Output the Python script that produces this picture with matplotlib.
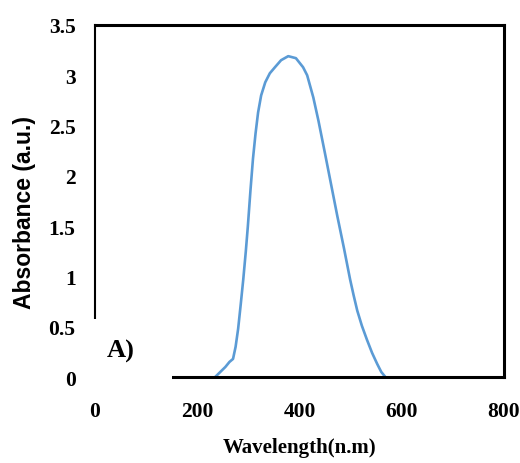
import matplotlib
matplotlib.use("Agg")
import matplotlib.pyplot as plt
from matplotlib.patches import Rectangle

wavelength = [235, 245, 255, 263, 270, 275, 280, 285, 290, 295, 299, 304, 309, 314,
              319, 325, 333, 342, 352, 364, 378, 393, 407, 415, 427, 437, 450, 462,
              474, 487, 499, 506, 513, 522, 532, 542, 552, 560, 568]
absorbance = [0.0, 0.05, 0.10, 0.15, 0.18, 0.30, 0.48, 0.72, 0.97, 1.25, 1.50, 1.85, 2.17, 2.42,
              2.63, 2.80, 2.93, 3.02, 3.08, 3.15, 3.19, 3.17, 3.08, 3.00, 2.78, 2.55, 2.22, 1.91,
              1.60, 1.28, 0.97, 0.81, 0.66, 0.51, 0.37, 0.24, 0.13, 0.05, 0.0]

x_ticks = [0, 200, 400, 600, 800]
y_ticks = [0, 0.5, 1, 1.5, 2, 2.5, 3, 3.5]
y_tick_labels = ["0", "0.5", "1", "1.5", "2", "2.5", "3", "3.5"]

serif = "Liberation Serif"
sans = "Liberation Sans"

fig = plt.figure(figsize=(5.2, 4.64), dpi=100)
ax = fig.add_axes([0.1827, 0.1853, 0.7865, 0.7587])

ax.plot(wavelength, absorbance, color="#5B9BD5", linewidth=1.9,
        solid_capstyle="round", solid_joinstyle="round")

ax.set_xlim(0, 800)
ax.set_ylim(0, 3.5)
ax.set_xticks(x_ticks)
ax.set_yticks(y_ticks)
ax.set_yticklabels(y_tick_labels)
ax.tick_params(axis="both", length=0)
ax.tick_params(axis="y", pad=14)
ax.tick_params(axis="x", pad=17)
for lbl in ax.get_xticklabels() + ax.get_yticklabels():
    lbl.set_fontfamily(serif)
    lbl.set_fontweight("bold")
    lbl.set_fontsize(15.5)

for side in ["top", "right", "bottom"]:
    ax.spines[side].set_linewidth(2.2)
ax.spines["left"].set_linewidth(1.5)

# Recuadro blanco de la etiqueta A) que tapa la esquina
ax.add_patch(Rectangle((-12, -0.1), 163, 0.68, facecolor="white", edgecolor="none",
                       transform=ax.transData, clip_on=False, zorder=5))
ax.text(22, 0.26, "A)", fontfamily=serif, fontweight="bold", fontsize=19,
        ha="left", va="center", zorder=6)

ax.set_xlabel("Wavelength(n.m)", fontfamily=serif, fontweight="bold", fontsize=15, labelpad=12)
ax.set_ylabel("Absorbance (a.u.)", fontfamily=sans, fontweight="bold", fontsize=16.5, va="center")
ax.yaxis.set_label_coords(-0.172, 0.469)

fig.savefig("out.png", dpi=100)
